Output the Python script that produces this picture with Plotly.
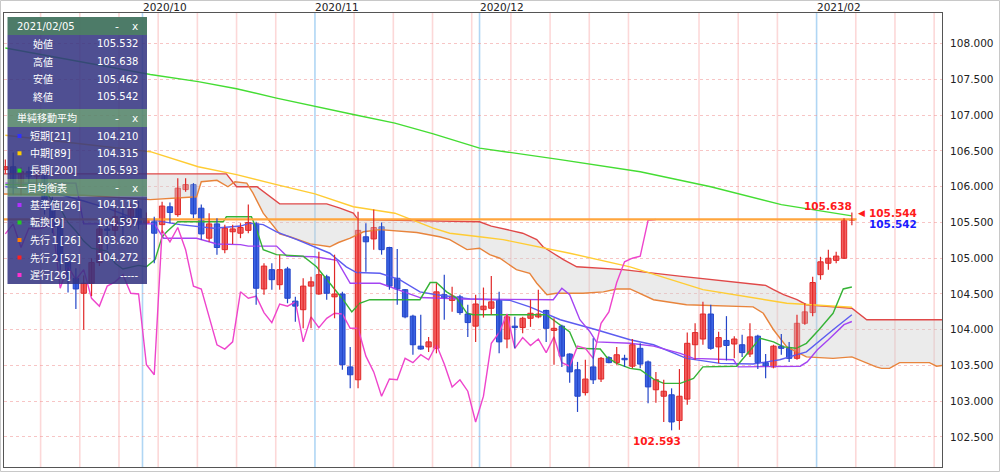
import plotly.graph_objects as go
import pandas as pd

# ---------------- data (USD/JPY daily, 2020/09/07 - 2021/02/05) ----------------
opens = [106.24,106.28,106.00,106.21,106.14,106.17,105.72,105.44,104.96,104.72,
         104.51,104.65,104.94,105.41,105.39,105.58,105.49,105.69,105.49,105.51,
         105.47,105.72,105.61,105.96,106.03,105.70,105.28,105.48,105.12,105.37,
         105.35,105.39,105.48,104.57,104.84,104.63,104.85,104.40,104.28,104.61,
         104.50,104.74,104.46,104.50,103.48,103.30,105.30,105.27,105.44,105.15,
         104.72,104.56,104.19,103.77,103.76,103.74,104.49,104.41,104.46,104.22,
         104.05,104.28,104.30,104.41,103.87,104.05,104.03,104.16,104.18,104.27,
         103.99,104.05,103.66,103.44,103.12,103.48,103.31,103.61,103.54,103.60,
         103.49,103.74,103.55,103.16,103.07,103.09,102.73,103.03,103.79,103.87,
         104.22,103.76,103.85,103.80,103.79,103.66,103.91,103.54,103.48,103.77,
         103.74,103.60,104.09,104.24,104.77,104.93,104.97,105.00,105.532]
highs = [106.38,106.48,106.27,106.28,106.25,106.19,105.86,105.51,105.00,104.86,
         104.76,105.00,105.49,105.54,105.70,105.70,105.78,105.80,105.64,105.58,
         105.79,105.78,106.12,106.12,106.05,105.75,105.63,105.56,105.47,105.47,
         105.49,105.75,105.51,104.93,104.93,105.05,104.88,104.46,104.72,104.74,
         105.09,104.77,105.05,104.53,103.76,105.65,105.49,105.68,105.50,105.16,
         105.13,104.57,104.21,104.21,103.90,104.65,104.77,104.60,104.49,104.35,
         104.49,104.59,104.75,104.53,104.21,104.18,104.18,104.42,104.56,104.28,
         104.16,104.07,103.67,103.55,103.58,103.88,103.62,103.63,103.76,103.65,
         103.87,103.81,103.57,103.41,103.30,103.18,103.45,103.96,104.09,104.39,
         104.35,103.97,104.19,103.91,103.93,104.09,103.93,103.66,103.79,103.94,
         103.83,104.21,104.37,104.74,105.02,105.12,105.09,105.56,105.638]
lows = [106.18,105.89,105.88,105.91,106.02,105.61,105.35,104.83,104.52,104.29,
        104.00,104.47,104.89,105.12,105.22,105.28,105.43,105.40,105.40,104.93,
        105.35,105.49,105.58,105.93,105.56,105.26,105.23,105.05,105.07,105.20,
        105.28,105.35,104.35,104.49,104.56,104.56,104.37,104.11,104.02,104.02,
        104.49,104.42,104.16,103.44,103.18,103.18,104.81,105.12,105.05,104.56,
        104.35,104.16,103.65,103.72,103.69,103.67,104.14,104.25,104.21,103.90,
        103.83,104.17,104.21,103.67,103.74,103.74,103.95,104.04,104.16,103.83,
        103.51,103.48,103.26,102.85,103.08,103.24,103.27,103.53,103.51,103.48,
        103.46,103.46,102.97,102.98,102.71,102.593,102.60,102.95,103.58,103.79,
        103.72,103.53,103.57,103.60,103.62,103.62,103.45,103.32,103.46,103.65,
        103.55,103.58,104.07,104.19,104.70,104.84,104.93,104.99,105.462]
closes = [106.28,106.00,106.21,106.14,106.17,105.72,105.44,104.96,104.72,104.57,
          104.65,104.94,105.41,105.39,105.58,105.49,105.69,105.48,105.54,105.35,
          105.73,105.64,105.98,106.03,105.62,105.34,105.48,105.15,105.42,105.41,
          105.43,105.50,104.58,104.89,104.70,104.84,104.44,104.33,104.61,104.67,
          104.77,104.51,104.50,103.51,103.37,105.39,105.23,105.43,105.12,104.61,
          104.57,104.18,103.79,103.73,103.83,104.53,104.44,104.47,104.24,104.10,
          104.36,104.33,104.39,103.83,104.18,104.03,104.16,104.23,104.22,104.02,
          104.02,103.63,103.41,103.07,103.31,103.30,103.60,103.54,103.65,103.58,
          103.79,103.52,103.20,103.30,103.14,102.71,103.07,103.81,103.96,104.22,
          103.74,103.89,103.78,103.87,103.68,103.90,103.54,103.49,103.77,103.74,
          103.60,104.09,104.25,104.66,104.95,105.00,105.03,105.53,105.542]

# indicator lines (x = trading-day index, y = price)
sma21_x = [0, 5, 10, 13, 15.9, 18.5, 22.3, 26.6, 30, 31.2, 32.9, 34.6, 37.2, 39.3, 41.4, 43.5, 44.8,
           47.8, 50.3, 52.9, 55, 59.3, 64.4, 66.9, 70.8, 75.4, 79.7, 82.7, 86.9, 91.2, 95.4, 98.8,
           102.2, 105.6, 108]
sma21_y = [106.00, 105.95, 105.80, 105.70, 105.58, 105.54, 105.47, 105.42, 105.45, 105.49, 105.47,
           105.37, 105.26, 105.16, 105.07, 104.88, 104.80, 104.79, 104.70, 104.53, 104.49, 104.43,
           104.41, 104.32, 104.14, 104.00, 103.86, 103.79, 103.60, 103.53, 103.52, 103.58, 103.69,
           104.00, 104.21]
sma89_x = [0, 18.5, 24.6, 29.5, 34.6, 39.5, 44.4, 49.7, 54.6, 56.7, 60.5, 63.5, 72, 79.7, 89, 99.7, 108]
sma89_y = [106.72, 106.49, 106.28, 106.17, 106.03, 105.90, 105.72, 105.63, 105.42, 105.35, 105.30,
           105.26, 105.07, 104.88, 104.56, 104.37, 104.315]
sma200_x = [0, 18.5, 24.6, 29.5, 34.6, 39.5, 44.4, 49.7, 54.6, 60.5, 70.8, 81, 90, 99, 108]
sma200_y = [107.94, 107.57, 107.47, 107.37, 107.24, 107.13, 107.01, 106.89, 106.74, 106.54, 106.38,
            106.21, 106.00, 105.75, 105.593]
kijun_x = [0, 9, 10, 19, 20.2, 24.4, 27, 30, 31, 34.6, 35.9, 39.5, 42.3, 44, 47.8, 49.1, 52.9, 58.4,
           69.9, 71, 72, 73.3, 74.6, 75.4, 79.7, 82.7, 86.1, 87.8, 92.9, 93.5, 101.4, 102.3, 103.6,
           105, 107, 108]
kijun_y = [106.05, 106.05, 105.48, 105.48, 105.28, 105.28, 105.20, 105.19, 105.17, 105.17, 105.03,
           105.02, 104.97, 104.65, 104.65, 104.60, 104.45, 104.43, 104.42, 104.58, 104.49, 104.14,
           103.97, 103.83, 103.81, 103.77, 103.67, 103.60, 103.58, 103.48, 103.49, 103.55, 103.72,
           103.86, 104.07, 104.115]
tenkan_x = [0, 4, 5, 6, 7, 8, 9, 10, 11, 13, 14, 15, 17, 18, 19.1, 20, 20.6, 22, 27.8, 28.2, 31.4,
            32, 32.9, 34.6, 38, 39.7, 41.4, 43.1, 44.2, 45.2, 46.5, 52.9, 54.2, 55, 56.3, 57.6, 58.9,
            59.7, 69, 72, 72.9, 75.9, 76.7, 78, 79.7, 81, 82.7, 84, 86.1, 87.8, 89, 93.3, 96.3, 98,
            99.3, 100.9, 102.2, 103.8, 105.6, 106.9, 108]
tenkan_y = [106.03, 106.03, 105.95, 105.80, 105.70, 105.50, 105.38, 105.24, 105.14, 105.10, 104.93,
            104.85, 104.90, 104.88, 104.98, 105.30, 105.37, 105.51, 105.51, 105.58, 105.58, 105.42,
            105.12, 105.05, 105.03, 104.88, 104.65, 104.42, 104.25, 104.37, 104.42, 104.42, 104.66,
            104.66, 104.53, 104.44, 104.23, 104.21, 104.21, 103.97, 103.74, 103.73, 103.62, 103.53,
            103.46, 103.44, 103.31, 103.25, 103.25, 103.32, 103.48, 103.49, 103.88, 103.83, 103.76,
            103.74, 103.81, 104.00, 104.23, 104.57, 104.597]
senkou_a_x = [-1, 10, 18.5, 24.4, 25, 27, 28.4, 29.3, 30.8, 31.6, 32.9, 35, 36.3, 38.9, 41.4, 42.5,
              44, 45.7, 47.8, 52.5, 55.4, 56.7, 58.9, 60.5, 61.8, 63.1, 65.2, 66.9, 67.8, 69.1, 70.3,
              73.7, 76.3, 78, 79.7, 82.7, 86.9, 95.4, 96.7, 98, 99.7, 102.2, 105.6, 108, 111.1,
              111.8, 112.8, 114.1, 117.9, 118.8, 121]
senkou_a_y = [105.90, 105.88, 105.82, 105.86, 106.07, 106.09, 106.00, 106.07, 106.05, 105.91, 105.63,
              105.34, 105.30, 105.20, 105.16, 105.22, 105.28, 105.37, 105.40, 105.36, 105.30, 105.26,
              105.12, 105.14, 105.05, 105.00, 104.84, 104.79, 104.65, 104.49, 104.51, 104.51, 104.53,
              104.57, 104.57, 104.42, 104.35, 104.32, 104.23, 104.00, 103.76, 103.62, 103.60, 103.62,
              103.48, 103.46, 103.46, 103.54, 103.54, 103.49, 103.52]
senkou_b_x = [-1, 18.5, 28.2, 29.5, 32.1, 35, 41, 42.7, 44.4, 45, 60.5, 62, 66, 67.8, 68.6, 69.9,
              71.2, 72.9, 76.3, 78.8, 86, 92, 97, 98, 99.3, 101, 102.2, 105.6, 108, 109.9, 121]
senkou_b_y = [106.18, 106.18, 106.18, 106.00, 106.00, 105.76, 105.76, 105.70, 105.63, 105.54, 105.51,
              105.45, 105.35, 105.26, 105.16, 105.07, 104.98, 104.88, 104.86, 104.84, 104.75, 104.68,
              104.62, 104.56, 104.49, 104.42, 104.35, 104.32, 104.30, 104.14, 104.14]
CHIKOU_SHIFT = 25

price_line = 105.544
y_ticks = [102.5, 103.0, 103.5, 104.0, 104.5, 105.0, 105.5, 106.0, 106.5, 107.0, 107.5, 108.0]
month_labels = {"2020-10": "2020/10", "2020-11": "2020/11", "2020-12": "2020/12", "2021-02": "2021/02"}

panel_date = "2021/02/05"
ohlc_names = ["始値", "高値", "安値", "終値"]
sma_title = "単純移動平均"
sma_names = ["短期[21]", "中期[89]", "長期[200]"]
sma_values = [104.210, 104.315, 105.593]
ichi_title = "一目均衡表"
ichi_names = ["基準値[26]", "転換[9]", "先行１[26]", "先行２[52]", "遅行[26]"]
ichi_values = [104.115, 104.597, 103.620, 104.272, None]

# ---------------- styling ----------------
C_SMA21, C_SMA89, C_SMA200 = "#5c5cf0", "#ffcc33", "#44dd33"
C_KIJUN, C_TENKAN, C_SA, C_SB, C_CHIKOU = "#a444f2", "#36b336", "#e8843c", "#e04848", "#ee44cc"
INC_FILL, INC_LINE = "#f46262", "#e02828"
DEC_FILL, DEC_LINE = "#3c64e4", "#2446c8"
FONT = "DejaVu Sans, Noto Sans CJK JP, sans-serif"

W, H = 1000, 472
ML, MR, MT, MB = 4, 58, 13, 5
PW, PH = W - ML - MR, H - MT - MB
def px(x):
    return (x - ML) / PW
def py(y):
    return (H - MB - y) / PH

n = len(closes)
idx = list(range(n))
days = [d for d in pd.bdate_range("2020-09-07", "2021-02-26") if d != pd.Timestamp("2021-01-01")]

fig = go.Figure()

def line(x, y, color, width=1.4, **kw):
    fig.add_trace(go.Scatter(x=x, y=y, mode="lines", line=dict(color=color, width=width),
                             hoverinfo="skip", showlegend=False, **kw))

# cloud
line(senkou_b_x, senkou_b_y, C_SB)
line(senkou_a_x, senkou_a_y, C_SA, fill="tonexty", fillcolor="rgba(205,205,205,0.4)")
# moving averages
line(sma200_x, sma200_y, C_SMA200)
line(sma89_x, sma89_y, C_SMA89)
line(sma21_x, sma21_y, C_SMA21)
# ichimoku lines
line(kijun_x, kijun_y, C_KIJUN)
line(tenkan_x, tenkan_y, C_TENKAN)
line(idx[:n - CHIKOU_SHIFT], closes[CHIKOU_SHIFT:], C_CHIKOU)
# current price line
line([-1, n - 1 + 0.6], [price_line, price_line], "#ffa53c", width=2.4)

# candles
for cond, fill, lc in [(lambda o, c: c >= o, INC_FILL, INC_LINE), (lambda o, c: c < o, DEC_FILL, DEC_LINE)]:
    sel = [i for i in idx if cond(opens[i], closes[i])]
    wx, wy = [], []
    for i in sel:
        wx += [i, i, None]
        wy += [lows[i], highs[i], None]
    line(wx, wy, lc, width=1.2)
    fig.add_trace(go.Bar(x=sel, base=[min(opens[i], closes[i]) for i in sel],
                         y=[max(abs(closes[i] - opens[i]), 0.008) for i in sel], width=0.68,
                         marker=dict(color=fill, line=dict(color=lc, width=1)),
                         hoverinfo="skip", showlegend=False))

shapes = []
annotations = []

# vertical separators (weeks in pink, months in blue)
for i, d in enumerate(days):
    if i == 0:
        continue
    key = d.strftime("%Y-%m")
    month_start = days[i - 1].month != d.month
    if month_start and key in month_labels:
        shapes.append(dict(type="line", xref="x", yref="paper", x0=i - 0.5, x1=i - 0.5, y0=0, y1=1,
                           line=dict(color="rgba(150,200,240,0.75)", width=1.6), layer="below"))
        annotations.append(dict(x=i - 0.5, y=py(7), xref="x", yref="paper", text=month_labels[key],
                                showarrow=False, xanchor="left", yanchor="middle", xshift=-2,
                                font=dict(family=FONT, size=10.5, color="#222")))
    elif d.weekday() == 0 and not month_start:
        shapes.append(dict(type="line", xref="x", yref="paper", x0=i - 0.5, x1=i - 0.5, y0=0, y1=1,
                           line=dict(color="rgba(250,190,190,0.6)", width=1.6), layer="below"))

# price annotations
last = n - 1
red, blue = "#ff1a1a", "#1a1aff"
bold = dict(family="DejaVu Sans, sans-serif", size=10.5, color=red)
annotations += [
    dict(x=last, y=highs[-1], text="<b>%.3f</b>" % highs[-1], showarrow=False, xanchor="right",
         yanchor="bottom", xshift=1, yshift=0, font=bold, borderpad=0),
    dict(x=last, y=price_line, text="◀", showarrow=False, xanchor="center", yanchor="middle",
         xshift=9.5, yshift=6, font=dict(family="DejaVu Sans", size=9, color=red), borderpad=0),
    dict(x=last, y=price_line, text="<b>%.3f</b>" % price_line, showarrow=False, xanchor="left",
         yanchor="middle", xshift=16, yshift=6.5, font=bold, borderpad=0),
    dict(x=last, y=closes[-1], text="<b>%.3f</b>" % closes[-1], showarrow=False, xanchor="left",
         yanchor="middle", xshift=16, yshift=-4.5, font=dict(bold, color=blue), borderpad=0),
]
imin = lows.index(min(lows))
annotations.append(dict(x=imin, y=lows[imin], text="<b>%.3f</b>" % lows[imin], showarrow=False,
                        xanchor="center", yanchor="top", xshift=-15, yshift=-4, font=bold, borderpad=0))

# ---------------- info panel ----------------
PL, PR = 7.5, 147
HEAD1, HEAD = "rgba(70,118,98,0.96)", "rgba(84,132,106,0.88)"
BODY = "rgba(50,50,128,0.86)"
def rect(x0, y0, x1, y1, color):
    shapes.append(dict(type="rect", xref="paper", yref="paper", x0=px(x0), x1=px(x1), y0=py(y1),
                       y1=py(y0), fillcolor=color, line=dict(width=0), layer="above"))
def text(x, y, s, anchor="left", size=10, color="white"):
    annotations.append(dict(x=px(x), y=py(y), xref="paper", yref="paper", text=s, showarrow=False,
                            xanchor=anchor, yanchor="middle", borderpad=0,
                            font=dict(family=FONT, size=size, color=color)))
def header(y0, y1, title, fill):
    rect(PL, y0, PR, y1, fill)
    ym = (y0 + y1) / 2
    text(16, ym, title)
    text(117, ym, "-", "center", 11)
    text(135, ym, "x", "center", 10.5)

header(17, 35, panel_date, HEAD1)
rect(PL, 35, PR, 109, BODY)
ohlc_vals = [opens[-1], highs[-1], lows[-1], closes[-1]]
for k, (nm, v) in enumerate(zip(ohlc_names, ohlc_vals)):
    yy = 44 + k * 17.6
    text(43, yy, nm, "center")
    text(138.5, yy, "%.3f" % v, "right")

header(109, 127, sma_title, HEAD)
rect(PL, 127, PR, 179, BODY)
for k, (nm, v, c) in enumerate(zip(sma_names, sma_values, ["#3030ff", "#ffcc00", "#22dd22"])):
    yy = 136 + k * 17.3
    rect(17.5, yy - 2, 21.5, yy + 2, c)
    text(29, yy, nm)
    text(138.5, yy, "%.3f" % v, "right")

header(179, 196.5, ichi_title, HEAD)
rect(PL, 196.5, PR, 284, BODY)
for k, (nm, v, c) in enumerate(zip(ichi_names, ichi_values,
                                   ["#b030ff", "#22cc22", "#ff8000", "#ff2020", "#ff30d0"])):
    yy = 205 + k * 17.5
    rect(17.5, yy - 2, 21.5, yy + 2, c)
    text(29, yy, nm)
    text(138.5, yy, "-----" if v is None else "%.3f" % v, "right")

# outer border of the image
shapes.append(dict(type="rect", xref="paper", yref="paper", x0=px(0.5), x1=px(999.5), y0=py(471.5),
                   y1=py(0.5), line=dict(color="#c8c8c8", width=1), layer="below"))

fig.update_layout(
    width=W, height=H, margin=dict(l=ML, r=MR, t=MT, b=MB, pad=0),
    paper_bgcolor="white", plot_bgcolor="white", showlegend=False, hovermode=False,
    barmode="overlay", shapes=shapes, annotations=annotations,
    font=dict(family=FONT, size=10.5, color="#222"),
    xaxis=dict(range=[-0.17, 119.5], showticklabels=False, showgrid=False, zeroline=False,
               showline=True, mirror=True, linecolor="#555", linewidth=1, fixedrange=True),
    yaxis=dict(range=[102.08, 108.43], side="right", tickvals=y_ticks, tickformat=".3f",
               showgrid=True, gridcolor="rgba(240,150,150,0.55)", griddash="3px,3px", gridwidth=1,
               zeroline=False, showline=True, mirror=True, linecolor="#555", linewidth=1,
               ticks="", ticklabelstandoff=5, tickfont=dict(family="DejaVu Sans", size=10.5, color="#222"),
               fixedrange=True),
)

fig.write_html("out.html", include_plotlyjs=True, full_html=True,
               config={"displayModeBar": False, "staticPlot": True},
               post_script="document.body.style.margin='0';")
